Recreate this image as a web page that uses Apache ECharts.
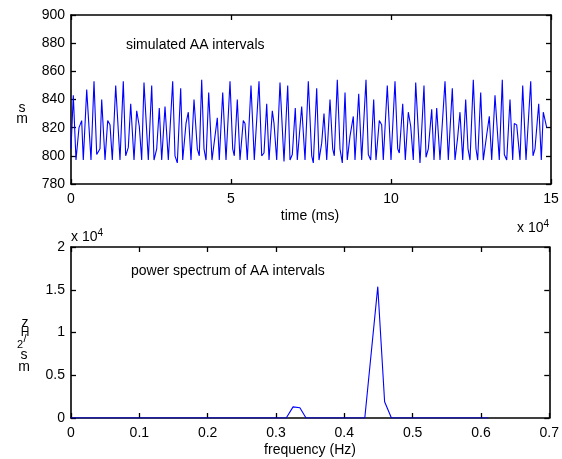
<!DOCTYPE html>
<html><head><meta charset="utf-8">
<script src="https://cdn.jsdelivr.net/npm/echarts@6/dist/echarts.min.js"></script>
<style>html,body{margin:0;padding:0;background:#fff}#c{width:562px;height:459px}</style>
</head><body><div id="c"></div>
<script>
// Top panel: simulated AA intervals (time in ms, interval in ms) — vertices
const aaTime = [0,720,1560,2500,3340,3840,4910,6250,7190,8030,9060,9590,10630,11470,12190,12910,13970,15310,16340,17090,17910,18660,19690,20530,21340,22090,22810,24160,25220,25940,26780,27590,28340,29380,30410,31780,32500,33220,34280,34910,35940,36660,37500,38440,39470,40090,40840,41560,42190,43030,44060,45000,45720,46340,47410,48440,49690,50530,51030,51970,52810,53840,54380,55090,56250,57280,58750,59590,60310,61160,61880,62910,63440,64280,65310,66560,67720,68440,69160,70090,70720,72090,73130,74160,75220,75720,76780,77500,78340,79060,79910,80940,81780,82280,83220,84060,84780,85630,86340,87190,88220,88750,89910,90840,92190,92910,93660,94590,95310,96340,97090,97590,98840,100000,101250,102090,102590,103660,104470,105410,106160,106970,107720,109060,110310,110940,111660,112720,113440,114280,115310,116880,117910,119160,120000,120780,121560,122410,123340,124060,124690,125720,126560,127090,128030,128840,129910,130720,131470,132500,133840,134780,135410,136160,137190,138030,138530,139280,140310,141160,142190,143660,144380,145000,146160,146970,147590,148660];
const aaInterval = [805,843,797,820,825,797,847,797,853,801,805,840,797,825,822,797,850,797,853,800,806,837,797,832,821,797,852,797,850,797,805,834,797,835,797,853,800,795,848,797,823,831,797,840,805,800,854,805,797,845,797,814,827,797,845,797,853,805,800,840,797,825,823,797,850,797,853,800,802,837,797,832,823,797,852,796,850,797,801,834,797,835,797,853,800,795,848,797,809,830,797,840,805,800,854,805,795,845,797,814,828,797,844,797,854,801,797,840,797,825,822,797,850,797,853,805,802,837,797,831,821,797,852,795,850,799,805,833,797,834,797,853,797,848,797,812,831,797,840,805,797,854,805,797,845,797,815,828,797,843,797,854,801,797,840,797,823,822,797,850,797,853,800,805,837,797,831,820];

// Bottom panel: power spectrum (units of 1e4 ms^2/Hz)
const specFreq  = [0, 0.315, 0.325, 0.335, 0.344, 0.430, 0.449, 0.459, 0.469, 0.611];
const specPower = [0, 0, 0.13, 0.12, 0, 0, 1.536, 0.19, 0, 0];

// Tick labels
const topXTicks = ['0','5','10','15'];
const topYTicks = ['780','800','820','840','860','880','900'];
const botXTicks = ['0','0.1','0.2','0.3','0.4','0.5','0.6','0.7'];
const botYTicks = ['0','0.5','1','1.5','2'];

const FONT = '"Liberation Sans", Arial, Helvetica, sans-serif';
const chart = echarts.init(document.getElementById('c'), null, {renderer: 'canvas'});

function axLine() { return {show: true, onZero: false, lineStyle: {color: '#000', width: 1.6}}; }
function tk() { return {show: true, inside: true, length: 5, lineStyle: {color: '#000', width: 1.3}}; }
function lb(margin, fmt) { return {show: true, color: '#000', fontFamily: FONT, fontSize: 14, margin: margin, formatter: fmt}; }
function mkAxis(grid, pos, min, max, interval, label) {
  return {gridIndex: grid, type: 'value', min: min, max: max, interval: interval, position: pos,
    axisLine: axLine(), axisTick: tk(), splitLine: {show: false},
    axisLabel: label || {show: false}};
}

chart.setOption({
  animation: false,
  backgroundColor: '#fff',
  grid: [
    {left: 71, top: 15, width: 480, height: 169, show: false},
    {left: 71, top: 247, width: 480, height: 171, show: false}
  ],
  xAxis: [
    mkAxis(0, 'bottom', 0, 150000, 50000, lb(8, (v) => topXTicks[Math.round(v / 50000)])),
    mkAxis(0, 'top', 0, 150000, 50000, null),
    mkAxis(1, 'bottom', 0, 0.7, 0.1, lb(8, (v) => botXTicks[Math.round(v * 10)])),
    mkAxis(1, 'top', 0, 0.7, 0.1, null)
  ],
  yAxis: [
    mkAxis(0, 'left', 780, 900, 20, lb(6, (v) => topYTicks[Math.round((v - 780) / 20)])),
    mkAxis(0, 'right', 780, 900, 20, null),
    mkAxis(1, 'left', 0, 2, 0.5, lb(6, (v) => botYTicks[Math.round(v * 2)])),
    mkAxis(1, 'right', 0, 2, 0.5, null)
  ],
  series: [
    {type: 'line', xAxisIndex: 0, yAxisIndex: 0, showSymbol: false, z: 5,
     lineStyle: {color: '#0000ff', width: 1.1}, data: aaTime.map((t, i) => [t, aaInterval[i]])},
    {type: 'line', xAxisIndex: 2, yAxisIndex: 2, showSymbol: false, z: 5,
     lineStyle: {color: '#0000ff', width: 1.1}, data: specFreq.map((f, i) => [f, specPower[i]])}
  ],
  graphic: [
    {type: 'text', left: 126, top: 38, style: {text: 'simulated AA intervals', fill: '#000', font: '14px ' + FONT}},
    {type: 'text', left: 131, top: 264, style: {text: 'power spectrum of AA intervals', fill: '#000', font: '14px ' + FONT}},
    {type: 'text', x: 310, y: 216, style: {text: 'time (ms)', fill: '#000', font: '14px ' + FONT, align: 'center', verticalAlign: 'middle'}},
    {type: 'text', x: 310, y: 450, style: {text: 'frequency (Hz)', fill: '#000', font: '14px ' + FONT, align: 'center', verticalAlign: 'middle'}},
    {type: 'text', x: 517, y: 219, style: {text: 'x 10{s|4}', fill: '#000', font: '14px ' + FONT,
      rich: {s: {fontSize: 10, fontFamily: FONT, verticalAlign: 'top', padding: [0, 0, 8, 0]}}}},
    {type: 'text', x: 71, y: 228, style: {text: 'x 10{s|4}', fill: '#000', font: '14px ' + FONT,
      rich: {s: {fontSize: 10, fontFamily: FONT, verticalAlign: 'top', padding: [0, 0, 8, 0]}}}},
    // y labels drawn with upright stacked glyphs as in the reference
    {type: 'text', x: 22, y: 108, style: {text: 's', fill: '#000', font: '14px ' + FONT, align: 'center', verticalAlign: 'middle'}},
    {type: 'text', x: 22, y: 119, style: {text: 'm', fill: '#000', font: '14px ' + FONT, align: 'center', verticalAlign: 'middle'}},
    {type: 'text', x: 25, y: 323, style: {text: 'z', fill: '#000', font: '14px ' + FONT, align: 'center', verticalAlign: 'middle'}},
    {type: 'text', x: 25, y: 333, style: {text: 'H', fill: '#000', font: '12px ' + FONT, align: 'center', verticalAlign: 'middle'}},
    {type: 'text', x: 25, y: 339, style: {text: '/', fill: '#000', font: '11px ' + FONT, align: 'center', verticalAlign: 'middle'}},
    {type: 'text', x: 20, y: 345, style: {text: '2', fill: '#000', font: '11px ' + FONT, align: 'center', verticalAlign: 'middle'}},
    {type: 'text', x: 24, y: 355, style: {text: 's', fill: '#000', font: '14px ' + FONT, align: 'center', verticalAlign: 'middle'}},
    {type: 'text', x: 24, y: 367, style: {text: 'm', fill: '#000', font: '14px ' + FONT, align: 'center', verticalAlign: 'middle'}}
  ]
});
</script></body></html>
